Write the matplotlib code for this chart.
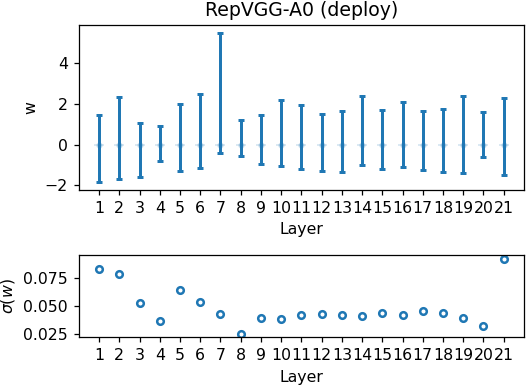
import matplotlib
matplotlib.use("Agg")
import matplotlib.pyplot as plt
import numpy as np

layers = list(range(1, 22))
w_max = [1.42, 2.34, 1.03, 0.90, 1.96, 2.48, 5.47, 1.22, 1.42, 2.17, 1.95,
         1.47, 1.62, 2.39, 1.67, 2.06, 1.63, 1.72, 2.37, 1.60, 2.29]
w_min = [-1.85, -1.68, -1.58, -0.82, -1.31, -1.13, -0.41, -0.57, -0.96, -1.03, -1.18,
         -1.27, -1.32, -0.99, -1.21, -1.08, -1.24, -1.32, -1.39, -0.60, -1.47]
w_mean = [0.0] * 21
w_std = [0.0837, 0.0792, 0.0528, 0.0362, 0.0641, 0.0532, 0.0425, 0.0250, 0.0395,
         0.0383, 0.0420, 0.0425, 0.0414, 0.0411, 0.0435, 0.0414, 0.0450, 0.0432,
         0.0395, 0.0316, 0.0928]

x = np.array(layers)
mean = np.array(w_mean)
lo = mean - np.array(w_min)
hi = np.array(w_max) - mean

DPI = 113
fig = plt.figure(figsize=(526 / DPI, 386 / DPI), dpi=DPI)
ax1 = fig.add_axes([0.150, 0.508, 0.846, 0.427])
ax2 = fig.add_axes([0.150, 0.126, 0.846, 0.214])

c = "#1f77b4"
ax1.errorbar(x, mean, yerr=[lo, hi], fmt="none", ecolor=c, elinewidth=1.9,
             capsize=2.2, capthick=1.9)
ax1.plot(x, mean, linestyle="none", marker="_", markersize=7, color=c, alpha=0.2)
ax1.plot(x, mean, linestyle="none", marker="o", markersize=3, color=c, alpha=0.2)
ax1.set_title("RepVGG-A0 (deploy)")
ax1.set_ylabel("w")
ax1.set_xlabel("Layer")
ax1.set_xticks(x)
ax1.set_xticklabels([str(i) for i in layers])
ax1.set_xlim(0, 22)
ax1.set_yticks([-2, 0, 2, 4])

ax2.plot(x, w_std, linestyle="none", marker="o", markersize=4.2,
         markerfacecolor="none", markeredgecolor=c, markeredgewidth=1.6)
ax2.set_ylabel(r"$\sigma(w)$")
ax2.set_xlabel("Layer")
ax2.set_xticks(x)
ax2.set_xticklabels([str(i) for i in layers])
ax2.set_xlim(0, 22)
ax2.set_yticks([0.025, 0.050, 0.075])

fig.savefig("out.png", dpi=DPI)
